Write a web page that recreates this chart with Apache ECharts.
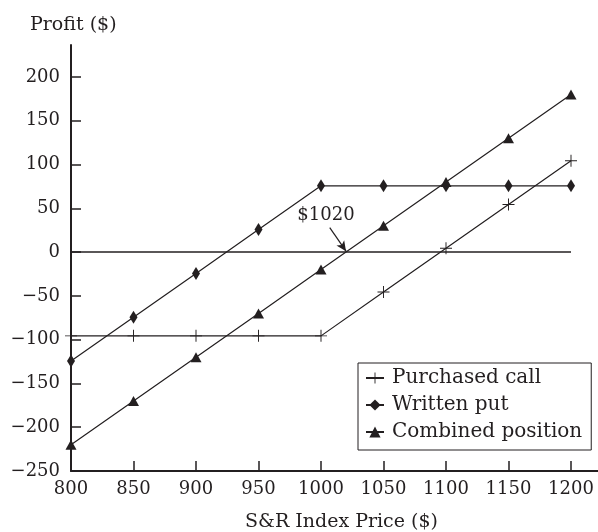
<!DOCTYPE html>
<html>
<head>
<meta charset="utf-8">
<script src="https://cdn.jsdelivr.net/npm/echarts@6/dist/echarts.min.js"></script>
<style>
    html, body { margin: 0; padding: 0; background: #fff; }
    #chart { width: 598px; height: 532px; }
</style>
</head>
<body>
<div id="chart"></div>
<script>
// index prices (x) and profits (y)
const prices = [800, 850, 900, 950, 1000, 1050, 1100, 1150, 1200];
const purchasedCall = [-95.68, -95.68, -95.68, -95.68, -95.68, -45.68, 4.32, 54.32, 104.32];
const writtenPut = [-124.32, -74.32, -24.32, 25.68, 75.68, 75.68, 75.68, 75.68, 75.68];
const combined = [-220, -170, -120, -70, -20, 30, 80, 130, 180];
const zeroLine = [[800, 0], [1200, 0]];
const xTicks = [800, 850, 900, 950, 1000, 1050, 1100, 1150, 1200];
const yTicks = [-250, -200, -150, -100, -50, 0, 50, 100, 150, 200];
const breakEven = 1020;

const ink = '#231f20';
const serif = 'DejaVu Serif';
const plusPath = 'path://M0,4.6H10V5.4H0Z M4.6,0H5.4V10H4.6Z';

function pairs(ys) {
    return prices.map((p, i) => [p, ys[i]]);
}

const chart = echarts.init(document.getElementById('chart'));
chart.setOption({
    animation: false,
    backgroundColor: '#fff',
    title: [
        { text: 'Profit ($)', left: 25, top: 11,
          textStyle: { fontFamily: serif, fontSize: 19, fontWeight: 'normal', color: ink } },
        { text: 'S&R Index Price ($)', left: 240, top: 508,
          textStyle: { fontFamily: serif, fontSize: 19, fontWeight: 'normal', color: ink } }
    ],
    grid: { left: 71, right: 0, top: 45, bottom: 61 },
    legend: {
        data: ['Purchased call', 'Written put', 'Combined position'],
        orient: 'vertical',
        left: 358, top: 363,
        padding: [5, 9, 8, 7],
        itemGap: 7,
        itemWidth: 18,
        itemHeight: 14,
        borderColor: ink,
        borderWidth: 1,
        textStyle: { fontFamily: serif, fontSize: 20, color: ink, padding: [0, 0, 0, 3] }
    },
    xAxis: {
        type: 'value',
        min: 800,
        max: 1221.6,
        splitLine: { show: false },
        axisLine: { onZero: false, lineStyle: { color: ink, width: 2 } },
        axisTick: { inside: true, length: 10, customValues: xTicks, lineStyle: { color: ink, width: 1.5 } },
        axisLabel: {
            customValues: xTicks, margin: 9, fontFamily: serif, fontSize: 18, color: ink,
            formatter: v => String(v)
        }
    },
    yAxis: {
        type: 'value',
        min: -250,
        max: 236.5,
        splitLine: { show: false },
        axisLine: { onZero: false, lineStyle: { color: ink, width: 2 } },
        axisTick: { inside: true, length: 10, customValues: yTicks, lineStyle: { color: ink, width: 1.5 } },
        axisLabel: {
            customValues: yTicks, margin: 11, fontFamily: serif, fontSize: 18, color: ink,
            formatter: v => String(v).replace('-', '\u2212')
        }
    },
    series: [
        {
            name: 'zero',
            type: 'line',
            data: zeroLine,
            symbol: 'none',
            silent: true,
            lineStyle: { color: ink, width: 1.5 }
        },
        {
            name: 'Purchased call',
            type: 'line',
            data: pairs(purchasedCall),
            symbol: plusPath,
            symbolSize: 12,
            itemStyle: { color: ink },
            lineStyle: { color: ink, width: 1.2 }
        },
        {
            name: 'Written put',
            type: 'line',
            data: pairs(writtenPut),
            symbol: 'diamond',
            symbolSize: [8, 13],
            itemStyle: { color: ink },
            lineStyle: { color: ink, width: 1.2 }
        },
        {
            name: 'Combined position',
            type: 'line',
            data: pairs(combined),
            symbol: 'triangle',
            symbolSize: [11, 10],
            itemStyle: { color: ink },
            lineStyle: { color: ink, width: 1.2 },
            markLine: {
                silent: true,
                symbol: ['none', 'arrow'],
                symbolSize: [7, 10],
                lineStyle: { color: ink, width: 1.2, type: 'solid' },
                label: { show: false },
                data: [[{ coord: [1007, 28] }, { coord: [breakEven, 1] }]]
            },
            markPoint: {
                silent: true,
                symbol: 'circle',
                symbolSize: 0,
                label: {
                    show: true,
                    formatter: '$' + breakEven,
                    fontFamily: serif, fontSize: 18, color: ink
                },
                data: [{ coord: [1004, 42] }]
            }
        }
    ]
});
</script>
</body>
</html>
